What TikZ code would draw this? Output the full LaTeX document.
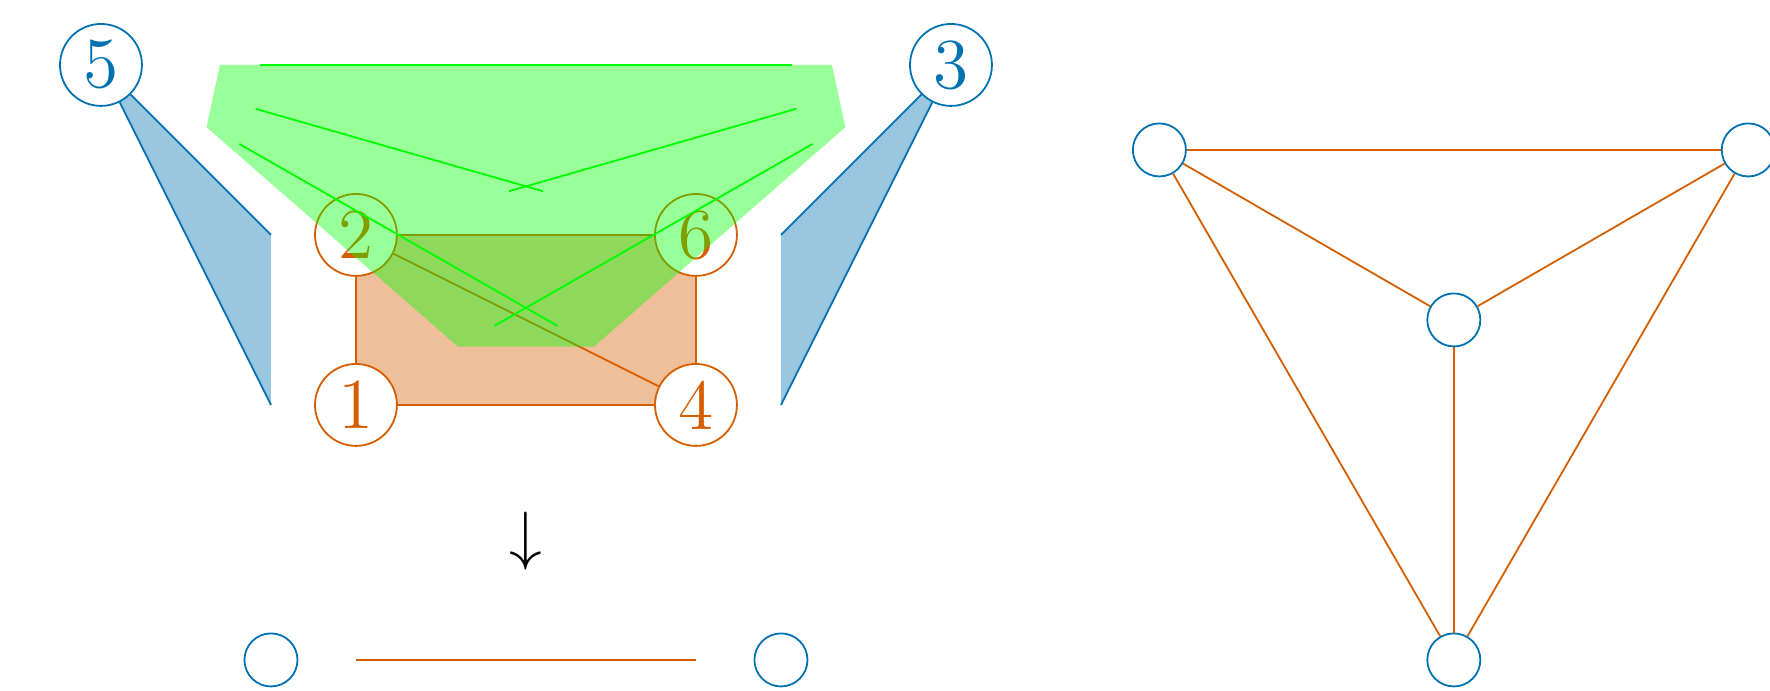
\documentclass[tikz,border=0pt]{standalone}
\usetikzlibrary{backgrounds}

\definecolor{cbblue}{RGB}{0,114,178}
\definecolor{cborange}{RGB}{213,94,0}
\definecolor{hgreen}{RGB}{0,255,0}

\tikzset{
    vert/.style={circle, draw=#1, fill=white, text=#1, line width=0.3pt,
        minimum size=0.482cm, inner sep=0pt, font=\fontsize{12}{14}\selectfont},
    emptyvert/.style={circle, draw=cbblue, fill=white, line width=0.3pt,
        minimum size=0.312cm, inner sep=0pt},
    edgeline/.style={draw=cborange, line width=0.3pt},
}

\begin{document}
\begin{tikzpicture}
    \useasboundingbox (-2.094,-1.682) rectangle (8.318,2.382);

    % Vertices of the hypergraph
    \node[vert=cborange] (v1) at (0,0) {1};
    \node[vert=cborange] (v2) at (0,1) {2};
    \node[vert=cborange] (v6) at (2,1) {6};
    \node[vert=cborange] (v4) at (2,0) {4};
    \node[vert=cbblue] (v5) at (-1.5,2) {5};
    \node[vert=cbblue] (v3) at (3.5,2) {3};

    % Corners of the blue hyperedges
    \coordinate (bl1) at (-0.5,1);
    \coordinate (bl0) at (-0.5,0);
    \coordinate (br1) at (2.5,1);
    \coordinate (br0) at (2.5,0);

    \begin{scope}[on background layer]
        % Blue hyperedges
        \fill[cbblue, opacity=0.4] (v5.center) -- (bl1) -- (bl0) -- cycle;
        \fill[cbblue, opacity=0.4] (v3.center) -- (br1) -- (br0) -- cycle;
        \draw[cbblue, line width=0.3pt] (bl1) -- (v5) -- (bl0);
        \draw[cbblue, line width=0.3pt] (br1) -- (v3) -- (br0);

        % Orange hyperedge
        \fill[cborange, opacity=0.4] (v1.center) rectangle (v6.center);
        \draw[edgeline] (v1) -- (v2) -- (v6) -- (v4) -- (v1);
        \draw[edgeline] (v2) -- (v4);
    \end{scope}

    % Green hyperedge
    \fill[hgreen, fill opacity=0.4] (-0.8,2.0) -- (-0.879,1.634) -- (0.6,0.343)
        -- (1.4,0.343) -- (2.879,1.634) -- (2.8,2.0) -- cycle;
    \draw[hgreen, line width=0.3pt] (-0.565,2) -- (2.565,2);
    \draw[hgreen, line width=0.3pt] (-0.59,1.742) -- (1.1,1.257);
    \draw[hgreen, line width=0.3pt] (2.59,1.742) -- (0.9,1.257);
    \draw[hgreen, line width=0.3pt] (-0.686,1.535) -- (1.186,0.465);
    \draw[hgreen, line width=0.3pt] (2.686,1.535) -- (0.814,0.465);

    % Arrow and reduced graph
    \node[font=\fontsize{11.4}{13}\selectfont] (arr) at (1,-0.8) {$\downarrow$};
    \node[emptyvert] (ua) at (-0.5,-1.5) {};
    \node[emptyvert] (ub) at (2.5,-1.5) {};
    \coordinate (ea) at (0,-1.5);
    \coordinate (eb) at (2,-1.5);
    \draw[edgeline] (ea) -- (eb);

    % Complete graph on four vertices
    \node[emptyvert] (kc) at (6.458,0.5) {};
    \node[emptyvert] (kl) at (4.726,1.5) {};
    \node[emptyvert] (kr) at (8.190,1.5) {};
    \node[emptyvert] (kb) at (6.458,-1.5) {};
    \draw[edgeline] (kl) -- (kr);
    \draw[edgeline] (kl) -- (kc);
    \draw[edgeline] (kr) -- (kc);
    \draw[edgeline] (kl) -- (kb);
    \draw[edgeline] (kr) -- (kb);
    \draw[edgeline] (kc) -- (kb);
\end{tikzpicture}
\end{document}
